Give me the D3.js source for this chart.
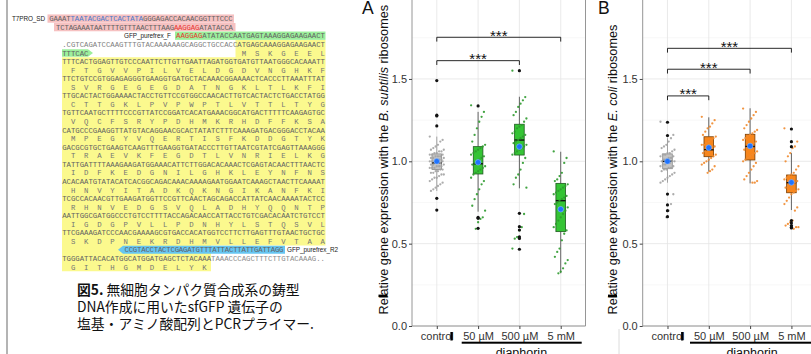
<!DOCTYPE html>
<html>
<head>
<meta charset="utf-8">
<script src="https://cdn.jsdelivr.net/npm/d3@7"></script>
<style>
  body { margin: 0; background: #fff; }
  svg { display: block; font-family: "Liberation Sans", Arial, sans-serif; }
  .seq { font-family: "Liberation Mono", monospace; font-size: 7.3px; }
  .lab { font-size: 6.4px; fill: #222; }
  .cap { font-family: "Noto Sans CJK JP", sans-serif; font-size: 13.8px; fill: #111; }
</style>
</head>
<body>
<svg id="fig" width="811" height="354"></svg>
<script>
// ---------- sequence figure data ----------
const t7Row = ["GAAAT", "TAATACGACTCACTATA", "GGGAGACCACAACGGTTTCCC"];
const sdRow = ["TCTAGAAATAATTTTGTTTAACTTTAAG", "AAGGAG", "ATATACCA"];
const fwdPrimer = ["AAGGAG", "ATATACCAATGAGTAAAGGAGAAGAACT"];
const vectorHead = ".CGTCAGATCCAAGTTTGTACAAAAAAGCAGGCTGCCACC";
const orfHead = "ATGAGCAAAGGAGAAGAACT";
const orfRows = [
  "TTTCACTGGAGTTGTCCCAATTCTTGTTGAATTAGATGGTGATGTTAATGGGCACAAATT",
  "TTCTGTCCGTGGAGAGGGTGAAGGTGATGCTACAAACGGAAAACTCACCCTTAAATTTAT",
  "TTGCACTACTGGAAAACTACCTGTTCCGTGGCCAACACTTGTCACTACTCTGACCTATGG",
  "TGTTCAATGCTTTTCCCGTTATCCGGATCACATGAAACGGCATGACTTTTTCAAGAGTGC",
  "CATGCCCGAAGGTTATGTACAGGAACGCACTATATCTTTCAAAGATGACGGGACCTACAA",
  "GACGCGTGCTGAAGTCAAGTTTGAAGGTGATACCCTTGTTAATCGTATCGAGTTAAAGGG",
  "TATTGATTTTAAAGAAGATGGAAACATTCTTGGACACAAACTCGAGTACAACTTTAACTC",
  "ACACAATGTATACATCACGGCAGACAAACAAAAGAATGGAATCAAAGCTAACTTCAAAAT",
  "TCGCCACAACGTTGAAGATGGTTCCGTTCAACTAGCAGACCATTATCAACAAAATACTCC",
  "AATTGGCGATGGCCCTGTCCTTTTACCAGACAACCATTACCTGTCGACACAATCTGTCCT",
  "TTCGAAAGATCCCAACGAAAAGCGTGACCACATGGTCCTTCTTGAGTTTGTAACTGCTGC"
];
const orfTail = "TGGGATTACACATGGCATGGATGAGCTCTACAAA";
const vectorTail = "TAAACCCAGCTTTCTTGTACAAAG..";
const revPrimer = "CCGTACCTACTCGAGATGTTTATTACTTATTGATTAGG";
const protein = "MSKGEEL" +
  "FTGVVPILVELDGDVNGHKF" + "SVRGEGEGDATNGKLTLKFI" + "CTTGKLPVPWPTLVTTLTYG" +
  "VQCFSRYPDHMKRHDFFKSA" + "MPEGYVQERTISFKDDGTYK" + "TRAEVKFEGDTLVNRIELKG" +
  "IDFKEDGNILGHKLEYNFNS" + "HNVYITADKQKNGIKANFKI" + "RHNVEDGSVQLADHYQQNTP" +
  "IGDGPVLLPDNHYLSTQSVL" + "SKDPNEKRDHMVLLEFVTAA" + "GITHGMDELYK";
const captionLines = ["無細胞タンパク質合成系の鋳型", "DNA作成に用いたsfGFP 遺伝子の", "塩基・アミノ酸配列とPCRプライマー."];

// ---------- chart data ----------
const categories = ["control", "50 µM", "500 µM", "5 mM"];
const yTicks = [0, 0.5, 1.0, 1.5];
const yMinor = [0.25, 0.75, 1.25, 1.75];

// [lower whisker, q1, median, q3, upper whisker]
const boxA = [[0.82, 0.95, 0.99, 1.045, 1.15], [0.694, 0.923, 0.985, 1.089, 1.30],
              [0.836, 1.038, 1.129, 1.225, 1.392], [0.32, 0.573, 0.761, 0.866, 1.058]];
const meanA = [1.0, 0.994, 1.089, 0.709];
const pointsA = [
  [1.15,1.13,1.12,1.10,1.09,1.08,1.07,1.07,1.06,1.06,1.05,1.05,1.04,1.04,1.04,1.03,1.03,1.03,1.02,1.02,
   1.02,1.01,1.01,1.01,1.00,1.00,1.00,1.00,0.99,0.99,0.99,0.98,0.98,0.98,0.97,0.97,0.97,0.96,0.96,0.96,
   0.95,0.95,0.94,0.94,0.93,0.93,0.92,0.92,0.91,0.90,0.90,0.89,0.88,0.87,0.86,0.85,0.84,0.83,0.82],
  [1.34,1.30,1.27,1.24,1.20,1.16,1.12,1.10,1.09,1.08,1.07,1.06,1.05,1.04,1.03,1.02,1.01,1.00,0.99,0.98,
   0.97,0.96,0.95,0.94,0.93,0.92,0.90,0.88,0.86,0.83,0.80,0.77,0.73,0.70,0.66,0.65,0.63,0.59],
  [1.55,1.39,1.37,1.35,1.33,1.30,1.28,1.26,1.24,1.22,1.21,1.20,1.18,1.17,1.16,1.15,1.14,1.13,1.12,1.11,
   1.10,1.09,1.08,1.07,1.06,1.05,1.04,1.02,0.99,0.95,0.92,0.90,0.86,0.84,0.68,0.60,0.58,0.54,0.53,0.47],
  [1.06,1.02,0.99,0.93,0.91,0.89,0.88,0.86,0.85,0.84,0.83,0.82,0.81,0.80,0.79,0.78,0.77,0.76,0.75,0.74,
   0.72,0.70,0.68,0.66,0.64,0.62,0.60,0.58,0.56,0.52,0.47,0.45,0.42,0.40,0.38,0.35,0.33,0.32]
];
const outliersA = [[1.49, 1.28, 1.275, 1.215, 0.775, 0.704], [1.336, 0.66, 0.654, 0.593],
                   [1.55, 0.684, 0.603, 0.583, 0.542, 0.532, 0.466], []];
const sigA = [[0, 2, 1.611], [0, 3, 1.753]];

const boxB = [[0.87, 0.955, 1.0, 1.045, 1.14], [0.937, 1.028, 1.07, 1.149, 1.267],
              [0.866, 1.008, 1.09, 1.164, 1.322], [0.704, 0.809, 0.87, 0.917, 1.05]];
const meanB = [1.0, 1.083, 1.093, 0.872];
const pointsB = [
  [1.24,1.16,1.14,1.12,1.10,1.09,1.08,1.07,1.06,1.05,1.05,1.04,1.04,1.03,1.03,1.02,1.02,1.01,1.01,1.00,
   1.00,1.00,0.99,0.99,0.98,0.98,0.97,0.97,0.96,0.96,0.95,0.95,0.94,0.93,0.92,0.91,0.90,0.89,0.88,0.87,
   0.80,0.74,0.70,0.66],
  [1.27,1.25,1.23,1.21,1.20,1.18,1.16,1.15,1.14,1.13,1.12,1.11,1.10,1.10,1.09,1.08,1.08,1.07,1.06,1.05,
   1.04,1.03,1.02,1.01,1.00,0.99,0.98,0.97,0.95,0.94,0.93],
  [1.32,1.30,1.28,1.26,1.24,1.22,1.20,1.19,1.18,1.17,1.16,1.15,1.14,1.13,1.12,1.11,1.10,1.09,1.08,1.07,
   1.06,1.05,1.04,1.03,1.02,1.01,1.00,0.99,0.97,0.95,0.93,0.91,0.89,0.88,0.87,0.87],
  [1.20,1.12,1.09,1.08,1.05,1.03,1.00,0.97,0.95,0.93,0.92,0.91,0.90,0.89,0.88,0.87,0.87,0.86,0.85,0.84,
   0.83,0.82,0.81,0.80,0.78,0.76,0.74,0.72,0.70,0.64,0.63,0.62,0.61,0.60,0.60,0.59]
];
const outliersB = [[1.237, 1.156, 0.801, 0.735, 0.70, 0.664], [], [],
                   [1.196, 1.119, 1.089, 0.64, 0.625, 0.61, 0.60, 0.595]];
const sigB = [[0, 1, 1.397], [0, 2, 1.559], [0, 3, 1.686]];

// ---------- drawing ----------
const svg = d3.select("#fig");

// left border strip
svg.append("rect").attr("x", 6).attr("y", 0).attr("width", 2).attr("height", 354).attr("fill", "#b4b4b4");

const CW = 4.38, X0 = 62.2;
const rowY = n => 18.7 + (n - 1) * 8.56;   // row centre
const colX = c => X0 + c * CW;
const rTop = n => rowY(n) - 4.28, rBot = n => rowY(n) + 4.28;

const seq = svg.append("g");

// coloured backgrounds
seq.append("path")
  .attr("d", `M235.5,${rTop(4)}H325.5V${rBot(27)}H211V${rBot(30)}H62V${rTop(6)}H235.5Z`)
  .attr("fill", "#fbf98e");
seq.append("rect").attr("x", 47.5).attr("y", rTop(1)).attr("width", 186.5).attr("height", 8.3).attr("fill", "#f6c1c1");
seq.append("rect").attr("x", 54).attr("y", rTop(2)).attr("width", 181.5).attr("height", 8.3).attr("fill", "#f6c1c1");
seq.append("rect").attr("x", 175).attr("y", rTop(3)).attr("width", 150.5).attr("height", 8.3).attr("fill", "#9cef9c");
seq.append("path")
  .attr("d", `M62,${rTop(5) + 0.5}H88L93,${rowY(5)}L88,${rBot(5) - 0.5}H62Z`).attr("fill", "#9cef9c");
seq.append("path")
  .attr("d", `M118,${rowY(28)}L123,${rTop(28) + 0.3}H285V${rBot(28) - 0.3}H123Z`).attr("fill", "#66c6f2");

function seqText(parts, x, n, len) {
  const t = seq.append("text").attr("class", "seq").attr("x", x).attr("y", rowY(n) + 2.6);
  parts.forEach(([s, c]) => t.append("tspan").attr("fill", c).text(s));
  if (len) t.attr("textLength", len).attr("lengthAdjust", "spacing");
  return t;
}
const dna = "#626262", red = "#e8352f";
seqText([[t7Row[0], dna], [t7Row[1], "#4a78c8"], [t7Row[2], dna]], 49.3, 1, 183.4);
seqText([[sdRow[0], dna], [sdRow[1], red], [sdRow[2], dna]], 56, 2, 177);
seqText([[fwdPrimer[0], red], [fwdPrimer[1], dna]], colX(26), 3);
seqText([[vectorHead, "#808080"], [orfHead, dna]], colX(0), 4);
seqText([["TTTCAC", dna]], colX(0), 5);
orfRows.forEach((r, i) => seqText([[r, dna]], colX(0), 6 + 2 * i));
seqText([[revPrimer, dna]], 124.5, 28, 159);
seqText([[orfTail, dna], [vectorTail, "#8c8c8c"]], colX(0), 29);

// amino acids under the middle base of each codon
protein.split("").forEach((aa, k) => {
  const p = 3 * k + 1;
  let row, col;
  if (p < 20) { row = 5; col = 40 + p; }
  else {
    const q = p - 20, idx = Math.floor(q / 60);
    col = q % 60;
    row = idx < 11 ? 7 + 2 * idx : 30;
  }
  seq.append("text").attr("class", "seq").attr("fill", "#747474")
    .attr("x", colX(col) + CW / 2).attr("y", rowY(row) + 2.6)
    .attr("text-anchor", "middle").text(aa);
});

// primer labels
seq.append("text").attr("class", "lab").attr("x", 12).attr("y", rowY(1) + 2.3)
  .attr("textLength", 33).text("T7PRO_SD");
seq.append("text").attr("class", "lab").attr("x", 124).attr("y", rowY(3) + 2.3)
  .attr("textLength", 47).text("GFP_purefrex_F");
seq.append("text").attr("class", "lab").attr("x", 287).attr("y", rowY(28) + 2.3)
  .attr("textLength", 51).text("GFP_purefrex_R2");

// caption
const cap = svg.append("g");
const c1 = cap.append("text").attr("class", "cap").attr("x", 77).attr("y", 295);
c1.append("tspan").attr("font-weight", "bold").text("図5.");
c1.append("tspan").text(" " + captionLines[0]);
cap.append("text").attr("class", "cap").attr("x", 77).attr("y", 312).text(captionLines[1]);
cap.append("text").attr("class", "cap").attr("x", 77).attr("y", 328.5).text(captionLines[2]);

// ---------- box plot panels ----------
const y = d3.scaleLinear().domain([0, 2]).range([326, -3.4]);
const jit = i => (((i * 37) % 13) / 12 - 0.5) * 14;

function drawPanel(cfg) {
  const g = svg.append("g");
  const left = cfg.left, right = cfg.left + 173.5, ptop = -5;
  const x = d3.scalePoint().domain(categories).range([left, right]).padding(0.6);

  g.selectAll(".mn").data(yMinor).join("line")
    .attr("x1", left).attr("x2", right).attr("y1", d => y(d)).attr("y2", d => y(d))
    .attr("stroke", "#f2f2f2").attr("stroke-width", 0.6);
  g.selectAll(".mj").data(yTicks).join("line")
    .attr("x1", left).attr("x2", right).attr("y1", d => y(d)).attr("y2", d => y(d))
    .attr("stroke", "#e4e4e4").attr("stroke-width", 0.8);
  g.selectAll(".vx").data(categories).join("line")
    .attr("x1", d => x(d)).attr("x2", d => x(d)).attr("y1", ptop).attr("y2", y(0))
    .attr("stroke", "#e4e4e4").attr("stroke-width", 0.8);

  g.append("path").attr("d", `M${left},${ptop}V${y(0)}H${right}V${ptop}`)
    .attr("fill", "none").attr("stroke", "#8a8a8a").attr("stroke-width", 0.9);

  const ay = g.append("g").attr("transform", `translate(${left},0)`)
    .call(d3.axisLeft(y).tickValues(yTicks).tickFormat(d3.format(".1f")).tickSize(3).tickPadding(2));
  const ax = g.append("g").attr("transform", `translate(0,${y(0)})`)
    .call(d3.axisBottom(x).tickSize(3).tickPadding(3.5));
  [ay, ax].forEach(a => {
    a.select(".domain").remove();
    a.selectAll("line").attr("stroke", "#444");
    a.selectAll("text").attr("fill", "#333").attr("font-size", 11)
      .attr("font-family", '"Liberation Sans", Arial, sans-serif');
  });

  const bw = 9.6;
  categories.forEach((c, i) => {
    const s = cfg.box[i], cx = x(c);
    const fill = i === 0 ? "#c4c4c4" : cfg.fill;
    const stroke = i === 0 ? "#8c8c8c" : cfg.stroke;
    const wc = i === 0 ? "#999" : "#555";
    g.append("line").attr("x1", cx).attr("x2", cx).attr("y1", y(s[0])).attr("y2", y(s[1]))
      .attr("stroke", wc).attr("stroke-width", 0.9);
    g.append("line").attr("x1", cx).attr("x2", cx).attr("y1", y(s[3])).attr("y2", y(s[4]))
      .attr("stroke", wc).attr("stroke-width", 0.9);
    g.append("rect").attr("x", cx - bw / 2).attr("width", bw)
      .attr("y", y(s[3])).attr("height", y(s[1]) - y(s[3]))
      .attr("fill", fill).attr("stroke", stroke).attr("stroke-width", 0.8);
    g.append("line").attr("x1", cx - bw / 2).attr("x2", cx + bw / 2)
      .attr("y1", y(s[2])).attr("y2", y(s[2])).attr("stroke", "#111").attr("stroke-width", 1.4);

    g.append("g").selectAll("circle").data(cfg.points[i]).join("circle")
      .attr("cx", (d, j) => cx + jit(j)).attr("cy", d => y(d)).attr("r", 1.15)
      .attr("fill", i === 0 ? "#a3a3a3" : cfg.pt).attr("opacity", 0.9);
    g.append("g").selectAll("circle").data(cfg.outl[i]).join("circle")
      .attr("cx", cx).attr("cy", d => y(d)).attr("r", 1.6).attr("fill", "#111");
    g.append("circle").attr("cx", cx).attr("cy", y(cfg.mean[i])).attr("r", 2.8)
      .attr("fill", "#1f74ff").attr("stroke", "#8ab8ff").attr("stroke-width", 0.6);
  });

  cfg.sig.forEach(([a, b, v]) => {
    const xa = x(categories[a]), xb = x(categories[b]), yy = y(v);
    g.append("path").attr("d", `M${xa},${yy + 4.3}V${yy}H${xb}V${yy + 4.3}`)
      .attr("fill", "none").attr("stroke", "#111").attr("stroke-width", 0.9);
    g.append("text").attr("x", (xa + xb) / 2).attr("y", yy + 3.5).attr("text-anchor", "middle")
      .attr("font-size", 15).attr("fill", "#111").text("***");
  });

  g.append("text").attr("x", cfg.letterX).attr("y", 13.5).attr("font-size", 17.5).attr("fill", "#111")
    .text(cfg.letter);

  const yl = g.append("text").attr("transform", `translate(${cfg.labelX},314.5) rotate(-90)`)
    .attr("font-size", 12.7).attr("fill", "#111");
  yl.append("tspan").text("Relative gene expression with the ");
  yl.append("tspan").attr("font-style", "italic").text(cfg.species);
  yl.append("tspan").text(" ribosomes");

  // thick strokes seen in the scan
  g.append("rect").attr("x", cfg.labelX - 9).attr("y", 294.6).attr("width", 9).attr("height", 2.4).attr("fill", "#000");
  g.append("rect").attr("x", x("control") + 13.6).attr("y", 332).attr("width", 2.3).attr("height", 8.5).attr("fill", "#000");

  g.append("rect").attr("x", cfg.ul[0]).attr("y", 341.7).attr("width", cfg.ul[1] - cfg.ul[0]).attr("height", 2)
    .attr("fill", "#000");
  g.append("text").attr("x", (x("50 µM") + x("5 mM")) / 2 + 2).attr("y", 356.5).attr("text-anchor", "middle")
    .attr("font-size", 12.5).attr("fill", "#111").text("diaphorin");
}

drawPanel({ left: 412, letter: "A", letterX: 362, labelX: 387.5, species: "B. subtilis",
  box: boxA, mean: meanA, points: pointsA, outl: outliersA, sig: sigA,
  fill: "#35c435", stroke: "#1f5a1f", pt: "#2e9a2e", ul: [461.7, 581.7] });
drawPanel({ left: 642.7, letter: "B", letterX: 598, labelX: 617, species: "E. coli",
  box: boxB, mean: meanB, points: pointsB, outl: outliersB, sig: sigB,
  fill: "#f7861c", stroke: "#7a3d00", pt: "#f08a2e", ul: [690, 811] });

svg.append("line").attr("x1", 619).attr("x2", 619).attr("y1", 329).attr("y2", 354)
  .attr("stroke", "#dcdcdc").attr("stroke-width", 1);
</script>
</body>
</html>
